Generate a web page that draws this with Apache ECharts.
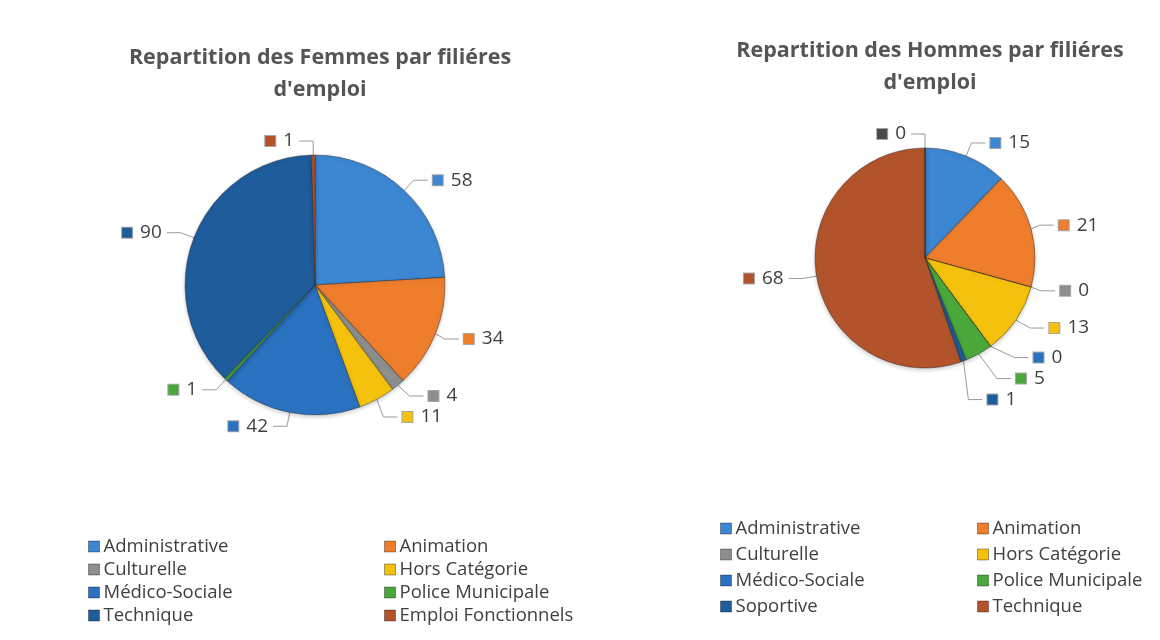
<!DOCTYPE html>
<html lang="fr">
<head>
<meta charset="UTF-8">
<title>Repartition par filières</title>
<script src="https://cdn.jsdelivr.net/npm/echarts@6/dist/echarts.min.js"></script>
<style>
html,body{margin:0;padding:0;background:#fff}
#chartBox{width:1160px;height:640px}
</style>
</head>
<body>
<div id="chartBox"></div>
<script>
// données
const femmesNoms = ['Administrative', 'Animation', 'Culturelle', 'Hors Catégorie', 'Médico-Sociale', 'Police Municipale', 'Technique', 'Emploi Fonctionnels'];
const femmesValeurs = [58, 34, 4, 11, 42, 1, 90, 1];
const hommesNoms = ['Administrative', 'Animation', 'Culturelle', 'Hors Catégorie', 'Médico-Sociale', 'Police Municipale', 'Soportive', 'Technique', 'Emploi Fonctionnels'];
const hommesValeurs = [15, 21, 0, 13, 0, 5, 1, 68, 0];

const COLORS = ['#3c86d2', '#ee7d2c', '#8e8e8e', '#f4c20d', '#2a72c0', '#4aa83a', '#1e5c9b', '#b3532b', '#4a4a4a'];
const FONT = '"Open Sans", sans-serif';

// carrés de couleur devant les valeurs
let richLabels = {v: {fontSize: 19, color: '#404040', fontFamily: FONT, padding: [0, 0, 0, 8]}};
COLORS.forEach((c, i) => {
    richLabels['c' + i] = {width: 10, height: 10, backgroundColor: c, borderColor: 'rgba(0,0,0,0.35)', borderWidth: 1};
});

function makePie(noms, valeurs, center, radius) {
    return {
        type: 'pie',
        center: center,
        radius: radius,
        startAngle: 90,
        clockwise: true,
        avoidLabelOverlap: true,
        itemStyle: {borderColor: 'rgba(40,40,40,0.45)', borderWidth: 1, shadowBlur: 4, shadowColor: 'rgba(0,0,0,0.2)', shadowOffsetY: 2},
        label: {
            show: true,
            position: 'outside',
            formatter: p => '{c' + p.dataIndex + '|}{v|' + p.value + '}',
            rich: richLabels
        },
        labelLine: {show: true, length: 14, length2: 14, lineStyle: {color: '#9a9a9a', width: 1}},
        emphasis: {disabled: true},
        data: noms.map((n, i) => ({name: n, value: valeurs[i], itemStyle: {color: COLORS[i]}}))
    };
}

function legendCol(noms, idx, left, top, gap) {
    return {
        orient: 'vertical',
        left: left,
        top: top,
        itemWidth: 11,
        itemHeight: 11,
        itemGap: gap,
        icon: 'rect',
        selectedMode: false,
        textStyle: {fontSize: 18.5, color: '#404040', fontFamily: FONT, lineHeight: 18, padding: [0, 0, 0, -1]},
        data: idx.map(i => ({name: noms[i], itemStyle: {color: COLORS[i], borderColor: 'rgba(0,0,0,0.35)', borderWidth: 1}}))
    };
}

let chartObj = echarts.init(document.getElementById('chartBox'));
chartObj.setOption({
    animation: false,
    title: [
        {
            text: "Repartition des Femmes par filiéres\nd'emploi",
            left: 315, top: 37, textAlign: 'center',
            textStyle: {fontSize: 21.5, fontWeight: 'bold', color: '#555555', fontFamily: FONT, lineHeight: 32}
        },
        {
            text: "Repartition des Hommes par filiéres\nd'emploi",
            left: 925, top: 30, textAlign: 'center',
            textStyle: {fontSize: 21.5, fontWeight: 'bold', color: '#555555', fontFamily: FONT, lineHeight: 32}
        }
    ],
    legend: [
        legendCol(femmesNoms, [0, 2, 4, 6], 83, 532, 4),
        legendCol(femmesNoms, [1, 3, 5, 7], 379, 532, 4),
        legendCol(hommesNoms, [0, 2, 4, 6], 715, 514, 7),
        legendCol(hommesNoms, [1, 3, 5, 7], 972, 514, 7)
    ],
    series: [
        makePie(femmesNoms, femmesValeurs, [315, 285], 130),
        makePie(hommesNoms, hommesValeurs, [925, 258], 110)
    ]
});
</script>
</body>
</html>
